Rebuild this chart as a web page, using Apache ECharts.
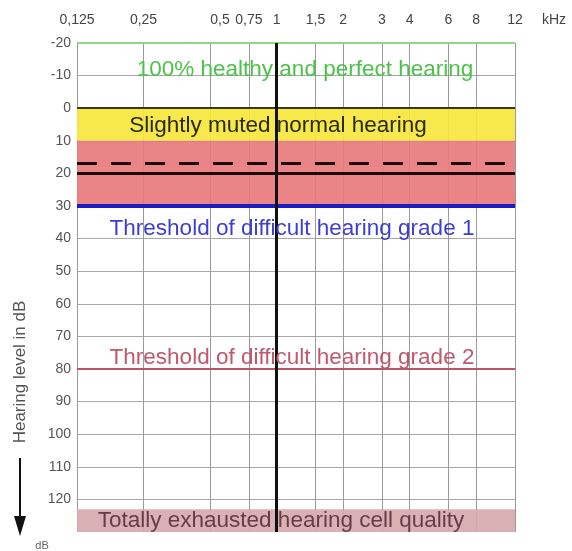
<!DOCTYPE html>
<html>
<head>
<meta charset="utf-8">
<script src="https://cdn.jsdelivr.net/npm/echarts@6/dist/echarts.min.js"></script>
<style>
  html, body { margin: 0; padding: 0; background: #ffffff; }
  #chart { width: 572px; height: 551px; }
</style>
</head>
<body>
<div id="chart"></div>
<script>
// Audiogram frequencies (kHz) and their printed labels
const freqKHz = [0.125, 0.25, 0.5, 0.75, 1, 1.5, 2, 3, 4, 6, 8, 12];
const freqLabels = ['0,125', '0,25', '0,5', '0,75', '1', '1,5', '2', '3', '4', '6', '8', '12'];

// Hearing level scale (dB), drawn downward
const levelTicks = [-20, -10, 0, 10, 20, 30, 40, 50, 60, 70, 80, 90, 100, 110, 120];
const levelRange = [-20, 130];

// Hearing zones (dB)
const perfectLimit = -20;
const mutedBand = [0, 10];
const mildBand = [10, 30];
const exhaustedBand = [123, 130];
const grade1Level = 30;
const grade2Level = 80;
const meanLevel = 20;
const dashedLevel = 17;
const centerFreq = 1;

// Zone captions
const perfectText = '100% healthy and perfect hearing';
const mutedText = 'Slightly muted normal hearing';
const grade1Text = 'Threshold of difficult hearing grade 1';
const grade2Text = 'Threshold of difficult hearing grade 2';
const exhaustedText = 'Totally exhausted hearing cell quality';

const FONT = '"Liberation Sans", Arial, sans-serif';
const CAPTION_SIZE = 22.5;
const toX = f => Math.log2(f);
const freqPos = freqKHz.map(toX);

function freqLabel(v) {
  let best = 0;
  freqPos.forEach((p, i) => { if (Math.abs(p - v) < Math.abs(freqPos[best] - v)) best = i; });
  const t = freqLabels[best];
  return t === '0,5' ? '{shift|' + t + '}' : t;
}

const chart = echarts.init(document.getElementById('chart'), null, { renderer: 'canvas' });

chart.setOption({
  backgroundColor: '#ffffff',
  animation: false,
  grid: { left: 77, right: 57, top: 43, bottom: 19, containLabel: false },
  xAxis: {
    type: 'value',
    position: 'top',
    min: toX(freqKHz[0]),
    max: toX(freqKHz[freqKHz.length - 1]),
    axisLine: { show: false },
    axisTick: { show: false, customValues: freqPos },
    axisLabel: {
      customValues: freqPos,
      margin: 16,
      fontFamily: FONT, fontSize: 14, color: '#444',
      formatter: freqLabel,
      rich: { shift: { fontFamily: FONT, fontSize: 14, color: '#444', padding: [0, 0, 0, 20] } }
    },
    splitLine: { show: true, lineStyle: { color: '#9a9a9a', width: 1 } }
  },
  yAxis: {
    type: 'value',
    inverse: true,
    min: levelRange[0],
    max: levelRange[1],
    axisLine: { show: false },
    axisTick: { show: false, customValues: levelTicks },
    axisLabel: { customValues: levelTicks, margin: 6, fontFamily: FONT, fontSize: 14, color: '#555' },
    splitLine: { show: true, lineStyle: { color: '#a8a8a8', width: 1 } }
  },
  series: [
    {
      type: 'line',
      data: [],
      silent: true,
      markArea: {
        silent: true,
        data: [
          [
            { yAxis: mutedBand[0], itemStyle: { color: '#f6e63c', opacity: 0.92 },
              label: { show: true, position: 'inside', offset: [-18, 1], formatter: mutedText,
                       fontFamily: FONT, fontSize: CAPTION_SIZE, color: '#2b2a08' } },
            { yAxis: mutedBand[1] }
          ],
          [
            { yAxis: mildBand[0], itemStyle: { color: '#e97a7c', opacity: 0.92 }, label: { show: false } },
            { yAxis: mildBand[1] }
          ],
          [
            { yAxis: exhaustedBand[0], itemStyle: { color: '#d6a9ae', opacity: 0.92 },
              label: { show: true, position: 'inside', offset: [-15, 0], formatter: exhaustedText,
                       fontFamily: FONT, fontSize: CAPTION_SIZE, color: '#6b3a47' } },
            { yAxis: exhaustedBand[1] }
          ]
        ]
      },
      markLine: {
        silent: true,
        symbol: ['none', 'none'],
        animation: false,
        data: [
          { yAxis: perfectLimit, lineStyle: { color: '#8fd88a', width: 2, type: 'solid' },
            label: { show: true, position: 'insideMiddleBottom', distance: 15, offset: [9, 0], formatter: perfectText,
                     fontFamily: FONT, fontSize: CAPTION_SIZE, color: '#4cc24a' } },
          { yAxis: mutedBand[0], lineStyle: { color: '#3a3a1a', width: 2, type: 'solid' }, label: { show: false } },
          { yAxis: dashedLevel, lineStyle: { color: '#1a0a0a', width: 3, type: [20, 14] }, label: { show: false } },
          { yAxis: meanLevel, lineStyle: { color: '#1a0a0a', width: 3, type: 'solid' }, label: { show: false } },
          { yAxis: grade1Level, lineStyle: { color: '#1c1cc4', width: 4, type: 'solid' },
            label: { show: true, position: 'insideMiddleBottom', distance: 11, offset: [-4, 0], formatter: grade1Text,
                     fontFamily: FONT, fontSize: CAPTION_SIZE, color: '#3e3ed2' } },
          { yAxis: grade2Level, lineStyle: { color: '#c2506a', width: 2, type: 'solid' },
            label: { show: true, position: 'insideMiddleTop', distance: 0, offset: [-4, 0], formatter: grade2Text,
                     fontFamily: FONT, fontSize: CAPTION_SIZE, color: '#c0586e' } },
          { xAxis: toX(centerFreq), lineStyle: { color: '#111111', width: 3, type: 'solid' }, label: { show: false } }
        ]
      }
    }
  ],
  graphic: [
    {
      type: 'text',
      x: 554, y: 20,
      style: { text: 'kHz', fontFamily: FONT, fontSize: 14, fill: '#444', align: 'center', verticalAlign: 'middle' }
    },
    {
      type: 'text',
      x: 20, y: 372,
      rotation: Math.PI / 2,
      style: { text: 'Hearing level in dB', fontFamily: FONT, fontSize: 17, fill: '#555',
               align: 'center', verticalAlign: 'middle' }
    },
    {
      type: 'line',
      shape: { x1: 20, y1: 458, x2: 20, y2: 520 },
      style: { stroke: '#111', lineWidth: 2 }
    },
    {
      type: 'polygon',
      shape: { points: [[14, 516], [26, 516], [20, 536]] },
      style: { fill: '#111' }
    },
    {
      type: 'text',
      x: 42, y: 546,
      style: { text: 'dB', fontFamily: FONT, fontSize: 11, fill: '#666', align: 'center', verticalAlign: 'middle' }
    }
  ]
});
</script>
</body>
</html>
